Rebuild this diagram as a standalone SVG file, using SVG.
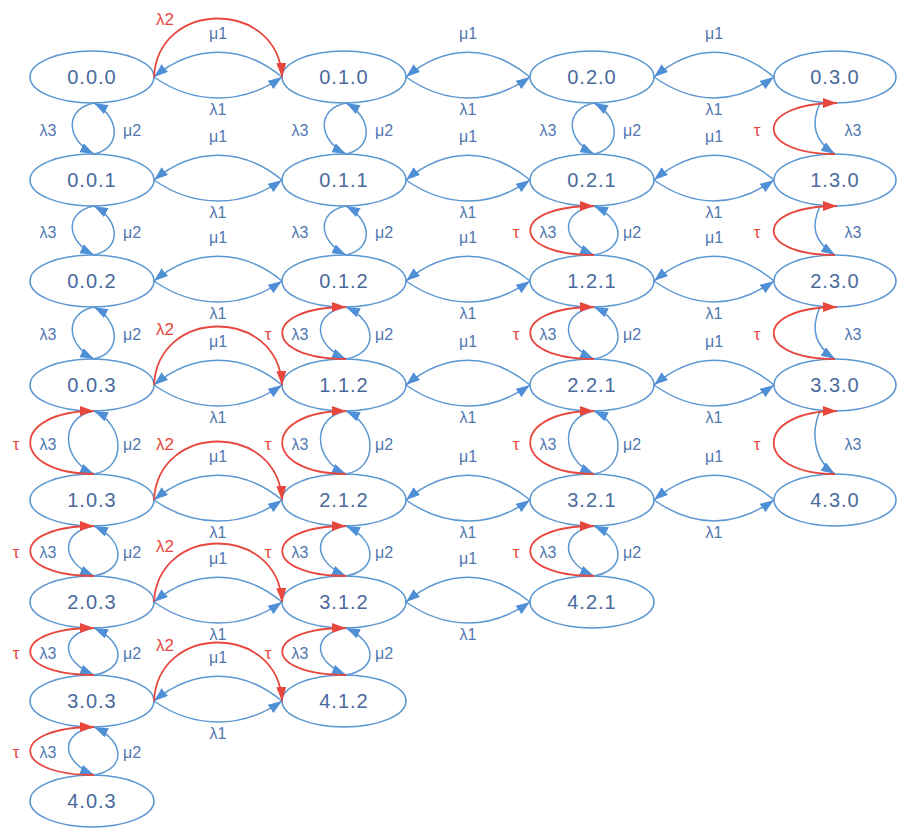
<svg xmlns="http://www.w3.org/2000/svg" width="897" height="830" viewBox="0 0 897 830">
<defs>
<marker id="ab" markerUnits="userSpaceOnUse" markerWidth="15" markerHeight="10" refX="14" refY="5" orient="auto"><path d="M0,0 L14,5 L0,10 z" fill="#4f8fd6"/></marker>
<marker id="ar" markerUnits="userSpaceOnUse" markerWidth="15" markerHeight="10" refX="14" refY="5" orient="auto"><path d="M0,0 L14,5 L0,10 z" fill="#e8473e"/></marker>
<style>
.node ellipse{fill:#fff;stroke:#5b97d1;stroke-width:1.6}
.node text{font-family:'Liberation Sans',Arial,sans-serif;font-size:20px;fill:#4a6a9c;text-anchor:middle;letter-spacing:1px}
.e{fill:none;stroke:#5b97d1;stroke-width:1.5;marker-end:url(#ab)}
.r{fill:none;stroke:#e8473e;stroke-width:1.8;marker-end:url(#ar)}
.lb{font-family:'Liberation Sans',Arial,sans-serif;font-size:16px;fill:#5077b0;text-anchor:middle}
.lr{font-family:'Liberation Sans',Arial,sans-serif;font-size:17px;fill:#e8473e;text-anchor:middle}
</style>
</defs>
<rect width="897" height="830" fill="#fff"/>
<g id="nodes">
<g id="n000" class="node"><ellipse cx="92" cy="77" rx="62" ry="26"/><text x="92" y="84">0.0.0</text></g>
<g id="n010" class="node"><ellipse cx="344" cy="77" rx="62" ry="26"/><text x="344" y="84">0.1.0</text></g>
<g id="n020" class="node"><ellipse cx="592" cy="77" rx="62" ry="26"/><text x="592" y="84">0.2.0</text></g>
<g id="n030" class="node"><ellipse cx="835" cy="77" rx="61" ry="26"/><text x="835" y="84">0.3.0</text></g>
<g id="n001" class="node"><ellipse cx="92" cy="180" rx="62" ry="26"/><text x="92" y="187">0.0.1</text></g>
<g id="n011" class="node"><ellipse cx="344" cy="180" rx="62" ry="26"/><text x="344" y="187">0.1.1</text></g>
<g id="n021" class="node"><ellipse cx="592" cy="180" rx="62" ry="26"/><text x="592" y="187">0.2.1</text></g>
<g id="n130" class="node"><ellipse cx="835" cy="180" rx="61" ry="26"/><text x="835" y="187">1.3.0</text></g>
<g id="n002" class="node"><ellipse cx="92" cy="281" rx="62" ry="26"/><text x="92" y="288">0.0.2</text></g>
<g id="n012" class="node"><ellipse cx="344" cy="281" rx="62" ry="26"/><text x="344" y="288">0.1.2</text></g>
<g id="n121" class="node"><ellipse cx="592" cy="281" rx="62" ry="26"/><text x="592" y="288">1.2.1</text></g>
<g id="n230" class="node"><ellipse cx="835" cy="281" rx="61" ry="26"/><text x="835" y="288">2.3.0</text></g>
<g id="n003" class="node"><ellipse cx="92" cy="385" rx="62" ry="26"/><text x="92" y="392">0.0.3</text></g>
<g id="n112" class="node"><ellipse cx="344" cy="385" rx="62" ry="26"/><text x="344" y="392">1.1.2</text></g>
<g id="n221" class="node"><ellipse cx="592" cy="385" rx="62" ry="26"/><text x="592" y="392">2.2.1</text></g>
<g id="n330" class="node"><ellipse cx="835" cy="385" rx="61" ry="26"/><text x="835" y="392">3.3.0</text></g>
<g id="n103" class="node"><ellipse cx="92" cy="500" rx="62" ry="26"/><text x="92" y="507">1.0.3</text></g>
<g id="n212" class="node"><ellipse cx="344" cy="500" rx="62" ry="26"/><text x="344" y="507">2.1.2</text></g>
<g id="n321" class="node"><ellipse cx="592" cy="500" rx="62" ry="26"/><text x="592" y="507">3.2.1</text></g>
<g id="n430" class="node"><ellipse cx="835" cy="500" rx="61" ry="26"/><text x="835" y="507">4.3.0</text></g>
<g id="n203" class="node"><ellipse cx="92" cy="602" rx="62" ry="26"/><text x="92" y="609">2.0.3</text></g>
<g id="n312" class="node"><ellipse cx="344" cy="602" rx="62" ry="26"/><text x="344" y="609">3.1.2</text></g>
<g id="n421" class="node"><ellipse cx="592" cy="602" rx="62" ry="26"/><text x="592" y="609">4.2.1</text></g>
<g id="n303" class="node"><ellipse cx="92" cy="701" rx="62" ry="26"/><text x="92" y="708">3.0.3</text></g>
<g id="n412" class="node"><ellipse cx="344" cy="701" rx="62" ry="26"/><text x="344" y="708">4.1.2</text></g>
<g id="n403" class="node"><ellipse cx="92" cy="801" rx="62" ry="26"/><text x="92" y="808">4.0.3</text></g>
</g>
<g id="connectors">
<path class="e" d="M282,77 C242,44 194,44 154,77"/><path class="e" d="M154,77 C194,105 242,105 282,77"/>
<path class="r" d="M154,77 C158,-1 278,-1 282,77"/>
<path class="e" d="M530,77 C490,44 446,44 406,77"/><path class="e" d="M406,77 C446,105 490,105 530,77"/>
<path class="e" d="M774,77 C734,44 694,44 654,77"/><path class="e" d="M654,77 C694,105 734,105 774,77"/>
<path class="e" d="M282,180 C242,147 194,147 154,180"/><path class="e" d="M154,180 C194,208 242,208 282,180"/>
<path class="e" d="M530,180 C490,147 446,147 406,180"/><path class="e" d="M406,180 C446,208 490,208 530,180"/>
<path class="e" d="M774,180 C734,147 694,147 654,180"/><path class="e" d="M654,180 C694,208 734,208 774,180"/>
<path class="e" d="M282,281 C242,248 194,248 154,281"/><path class="e" d="M154,281 C194,309 242,309 282,281"/>
<path class="e" d="M530,281 C490,248 446,248 406,281"/><path class="e" d="M406,281 C446,309 490,309 530,281"/>
<path class="e" d="M774,281 C734,248 694,248 654,281"/><path class="e" d="M654,281 C694,309 734,309 774,281"/>
<path class="e" d="M282,385 C242,352 194,352 154,385"/><path class="e" d="M154,385 C194,413 242,413 282,385"/>
<path class="r" d="M154,385 C158,307 278,307 282,385"/>
<path class="e" d="M530,385 C490,352 446,352 406,385"/><path class="e" d="M406,385 C446,413 490,413 530,385"/>
<path class="e" d="M774,385 C734,352 694,352 654,385"/><path class="e" d="M654,385 C694,413 734,413 774,385"/>
<path class="e" d="M282,500 C242,467 194,467 154,500"/><path class="e" d="M154,500 C194,528 242,528 282,500"/>
<path class="r" d="M154,500 C158,422 278,422 282,500"/>
<path class="e" d="M530,500 C490,467 446,467 406,500"/><path class="e" d="M406,500 C446,528 490,528 530,500"/>
<path class="e" d="M774,500 C734,467 694,467 654,500"/><path class="e" d="M654,500 C694,528 734,528 774,500"/>
<path class="e" d="M282,602 C242,569 194,569 154,602"/><path class="e" d="M154,602 C194,630 242,630 282,602"/>
<path class="r" d="M154,602 C158,524 278,524 282,602"/>
<path class="e" d="M530,602 C490,569 446,569 406,602"/><path class="e" d="M406,602 C446,630 490,630 530,602"/>
<path class="e" d="M282,701 C242,668 194,668 154,701"/><path class="e" d="M154,701 C194,729 242,729 282,701"/>
<path class="r" d="M154,701 C158,623 278,623 282,701"/>

<path class="e" d="M94,103 C64,109 66,140 94,154"/><path class="e" d="M94,154 C122,148 120,117 94,103"/>
<path class="e" d="M94,206 C64,212 66,241 94,255"/><path class="e" d="M94,255 C122,249 120,220 94,206"/>
<path class="e" d="M94,307 C64,313 66,345 94,359"/><path class="e" d="M94,359 C122,353 120,321 94,307"/>
<path class="e" d="M94,411 C59,417 61,460 94,474"/><path class="e" d="M94,474 C127,468 125,425 94,411"/><path class="r" d="M94,474 C9,474 9,411 94,411"/>
<path class="e" d="M94,526 C59,532 61,562 94,576"/><path class="e" d="M94,576 C127,570 125,540 94,526"/><path class="r" d="M94,576 C9,576 9,526 94,526"/>
<path class="e" d="M94,628 C59,634 61,661 94,675"/><path class="e" d="M94,675 C127,669 125,642 94,628"/><path class="r" d="M94,675 C9,675 9,628 94,628"/>
<path class="e" d="M94,727 C59,733 61,761 94,775"/><path class="e" d="M94,775 C127,769 125,741 94,727"/><path class="r" d="M94,775 C9,775 9,727 94,727"/>
<path class="e" d="M346,103 C316,109 318,140 346,154"/><path class="e" d="M346,154 C374,148 372,117 346,103"/>
<path class="e" d="M346,206 C316,212 318,241 346,255"/><path class="e" d="M346,255 C374,249 372,220 346,206"/>
<path class="e" d="M346,307 C311,313 313,345 346,359"/><path class="e" d="M346,359 C379,353 377,321 346,307"/><path class="r" d="M346,359 C261,359 261,307 346,307"/>
<path class="e" d="M346,411 C311,417 313,460 346,474"/><path class="e" d="M346,474 C379,468 377,425 346,411"/><path class="r" d="M346,474 C261,474 261,411 346,411"/>
<path class="e" d="M346,526 C311,532 313,562 346,576"/><path class="e" d="M346,576 C379,570 377,540 346,526"/><path class="r" d="M346,576 C261,576 261,526 346,526"/>
<path class="e" d="M346,628 C311,634 313,661 346,675"/><path class="e" d="M346,675 C379,669 377,642 346,628"/><path class="r" d="M346,675 C261,675 261,628 346,628"/>
<path class="e" d="M594,103 C564,109 566,140 594,154"/><path class="e" d="M594,154 C622,148 620,117 594,103"/>
<path class="e" d="M594,206 C559,212 561,241 594,255"/><path class="e" d="M594,255 C627,249 625,220 594,206"/><path class="r" d="M594,255 C509,255 509,206 594,206"/>
<path class="e" d="M594,307 C559,313 561,345 594,359"/><path class="e" d="M594,359 C627,353 625,321 594,307"/><path class="r" d="M594,359 C509,359 509,307 594,307"/>
<path class="e" d="M594,411 C559,417 561,460 594,474"/><path class="e" d="M594,474 C627,468 625,425 594,411"/><path class="r" d="M594,474 C509,474 509,411 594,411"/>
<path class="e" d="M594,526 C559,532 561,562 594,576"/><path class="e" d="M594,576 C627,570 625,540 594,526"/><path class="r" d="M594,576 C509,576 509,526 594,526"/>
<path class="e" d="M820,103 C811,123 813,140 835,154"/><path class="r" d="M835,154 C753,154 753,103 837,103"/>
<path class="e" d="M820,206 C811,226 813,241 835,255"/><path class="r" d="M835,255 C753,255 753,206 837,206"/>
<path class="e" d="M820,307 C811,327 813,345 835,359"/><path class="r" d="M835,359 C753,359 753,307 837,307"/>
<path class="e" d="M820,411 C811,431 813,460 835,474"/><path class="r" d="M835,474 C753,474 753,411 837,411"/>

<g class="lb">
<text x="218" y="39">μ1</text><text x="218" y="115">λ1</text>
<text x="468" y="39">μ1</text><text x="468" y="115">λ1</text>
<text x="714" y="39">μ1</text><text x="714" y="115">λ1</text>
<text x="218" y="142">μ1</text><text x="218" y="218">λ1</text>
<text x="468" y="142">μ1</text><text x="468" y="218">λ1</text>
<text x="714" y="142">μ1</text><text x="714" y="218">λ1</text>
<text x="218" y="243">μ1</text><text x="218" y="319">λ1</text>
<text x="468" y="243">μ1</text><text x="468" y="319">λ1</text>
<text x="714" y="243">μ1</text><text x="714" y="319">λ1</text>
<text x="218" y="347">μ1</text><text x="218" y="423">λ1</text>
<text x="468" y="347">μ1</text><text x="468" y="423">λ1</text>
<text x="714" y="347">μ1</text><text x="714" y="423">λ1</text>
<text x="218" y="462">μ1</text><text x="218" y="538">λ1</text>
<text x="468" y="462">μ1</text><text x="468" y="538">λ1</text>
<text x="714" y="462">μ1</text><text x="714" y="538">λ1</text>
<text x="218" y="564">μ1</text><text x="218" y="640">λ1</text>
<text x="468" y="564">μ1</text><text x="468" y="640">λ1</text>
<text x="218" y="663">μ1</text><text x="218" y="739">λ1</text>
<text x="48" y="136">λ3</text><text x="132" y="136">μ2</text>
<text x="48" y="238">λ3</text><text x="132" y="238">μ2</text>
<text x="48" y="340">λ3</text><text x="132" y="340">μ2</text>
<text x="48" y="450">λ3</text><text x="132" y="450">μ2</text>
<text x="48" y="558">λ3</text><text x="132" y="558">μ2</text>
<text x="48" y="659">λ3</text><text x="132" y="659">μ2</text>
<text x="48" y="758">λ3</text><text x="132" y="758">μ2</text>
<text x="300" y="136">λ3</text><text x="384" y="136">μ2</text>
<text x="300" y="238">λ3</text><text x="384" y="238">μ2</text>
<text x="300" y="340">λ3</text><text x="384" y="340">μ2</text>
<text x="300" y="450">λ3</text><text x="384" y="450">μ2</text>
<text x="300" y="558">λ3</text><text x="384" y="558">μ2</text>
<text x="300" y="659">λ3</text><text x="384" y="659">μ2</text>
<text x="548" y="136">λ3</text><text x="632" y="136">μ2</text>
<text x="548" y="238">λ3</text><text x="632" y="238">μ2</text>
<text x="548" y="340">λ3</text><text x="632" y="340">μ2</text>
<text x="548" y="450">λ3</text><text x="632" y="450">μ2</text>
<text x="548" y="558">λ3</text><text x="632" y="558">μ2</text>
<text x="853" y="136">λ3</text>
<text x="853" y="238">λ3</text>
<text x="853" y="340">λ3</text>
<text x="853" y="450">λ3</text>
</g>
<g class="lr">
<text x="165" y="25">λ2</text>
<text x="165" y="335">λ2</text>
<text x="165" y="450">λ2</text>
<text x="165" y="552">λ2</text>
<text x="165" y="651">λ2</text>
<text x="16" y="450">τ</text><text x="16" y="558">τ</text><text x="16" y="659">τ</text><text x="16" y="758">τ</text>
<text x="268" y="340">τ</text><text x="268" y="450">τ</text><text x="268" y="558">τ</text><text x="268" y="659">τ</text>
<text x="516" y="238">τ</text><text x="516" y="340">τ</text><text x="516" y="450">τ</text><text x="516" y="558">τ</text>
<text x="757" y="136">τ</text><text x="757" y="238">τ</text><text x="757" y="340">τ</text><text x="757" y="450">τ</text>
</g>
</g>
</svg>
